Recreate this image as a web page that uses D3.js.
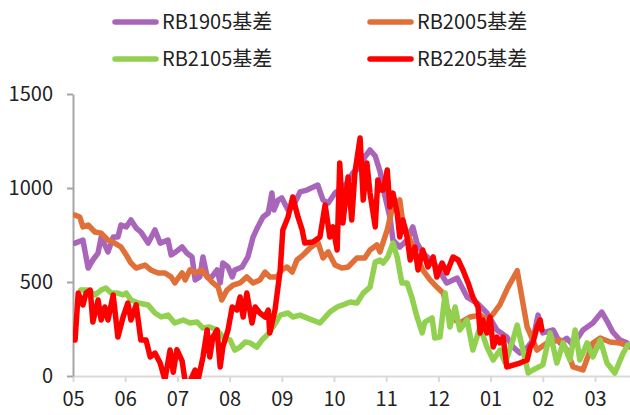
<!DOCTYPE html>
<html>
<head>
<meta charset="utf-8">
<script src="https://cdn.jsdelivr.net/npm/d3@7/dist/d3.min.js"></script>
<style>
    body { margin: 0; background: #fff; }
    text { font-family: "Noto Sans CJK SC", "Noto Sans", sans-serif; fill: #222; }
</style>
</head>
<body>
<div id="chart"></div>
<script>
// Basis chart: RB contracts, months 2018-05 .. 2019-03
// x values are months since the first tick ("05"), y values are basis

const monthLabels = ['05', '06', '07', '08', '09', '10', '11', '12', '01', '02', '03'];
const yTicks = [0, 500, 1000, 1500];

const seriesNames = ['RB1905基差', 'RB2005基差', 'RB2105基差', 'RB2205基差'];
const seriesColors = ['#A965BA', '#E07038', '#92D050', '#FF0000'];

const rb1905 = [
    [0.04, 707], [0.19, 723], [0.29, 574], [0.38, 617], [0.48, 654], [0.54, 739], [0.67, 660],
    [0.77, 739], [0.86, 739], [0.92, 803], [1.02, 793], [1.11, 830], [1.21, 787], [1.30, 766],
    [1.44, 707], [1.57, 777], [1.67, 707], [1.82, 723], [1.88, 644], [1.97, 660], [2.09, 686],
    [2.18, 654], [2.28, 633], [2.34, 511], [2.43, 527], [2.49, 633], [2.57, 527], [2.66, 527],
    [2.76, 564], [2.82, 495], [2.87, 601], [2.97, 580], [3.05, 527], [3.10, 564], [3.24, 580],
    [3.35, 633], [3.45, 739], [3.54, 793], [3.64, 846], [3.74, 867], [3.81, 973], [3.85, 883],
    [3.93, 936], [4.00, 947], [4.12, 883], [4.21, 899], [4.35, 979], [4.48, 989], [4.69, 1016],
    [4.79, 936], [4.89, 920], [5.02, 973], [5.15, 1000], [5.25, 1027], [5.36, 1080], [5.50, 1112],
    [5.59, 1165], [5.69, 1202], [5.79, 1170], [5.88, 1090], [5.94, 1000], [6.07, 846], [6.13, 723],
    [6.26, 686], [6.40, 723], [6.51, 793], [6.59, 707], [6.70, 654], [6.84, 620], [6.97, 580],
    [7.16, 495], [7.36, 521], [7.55, 420], [7.74, 388], [7.93, 335], [8.12, 245], [8.31, 207],
    [8.43, 154], [8.56, 122], [8.70, 150], [8.81, 191], [8.91, 324], [9.00, 229], [9.20, 245],
    [9.33, 176], [9.46, 200], [9.58, 165], [9.77, 245], [9.96, 282], [10.13, 340], [10.25, 282],
    [10.34, 234], [10.48, 191], [10.61, 176]
];

const rb2005 = [
    [0.04, 856], [0.13, 846], [0.19, 793], [0.29, 803], [0.42, 766], [0.54, 760], [0.67, 723],
    [0.80, 707], [0.92, 686], [1.02, 644], [1.11, 601], [1.21, 574], [1.38, 590], [1.49, 564],
    [1.63, 548], [1.76, 548], [1.88, 527], [1.95, 495], [1.99, 511], [2.09, 548], [2.15, 511],
    [2.24, 564], [2.34, 548], [2.47, 564], [2.57, 527], [2.68, 495], [2.78, 473], [2.85, 404],
    [2.95, 457], [3.07, 484], [3.20, 495], [3.33, 527], [3.45, 495], [3.58, 511], [3.68, 553],
    [3.77, 527], [3.91, 527], [4.00, 564], [4.10, 580], [4.20, 553], [4.29, 617], [4.41, 644],
    [4.54, 681], [4.69, 713], [4.79, 628], [4.89, 660], [5.02, 590], [5.15, 574], [5.27, 580],
    [5.44, 628], [5.59, 628], [5.69, 670], [5.82, 697], [5.88, 660], [6.02, 777], [6.11, 883],
    [6.26, 936], [6.32, 814], [6.46, 723], [6.59, 633], [6.70, 564], [6.84, 511], [6.97, 473],
    [7.09, 441], [7.22, 314], [7.41, 282], [7.61, 314], [7.80, 324], [7.93, 298], [8.05, 330],
    [8.18, 380], [8.33, 470], [8.51, 560], [8.70, 261], [8.89, 138], [9.08, 176], [9.33, 191],
    [9.46, 138], [9.58, 48], [9.77, 32], [9.96, 176], [10.10, 202], [10.29, 181], [10.48, 176],
    [10.67, 154]
];

const rb2105 = [
    [0.15, 457], [0.29, 457], [0.42, 431], [0.54, 457], [0.63, 468], [0.73, 441], [0.86, 441],
    [0.96, 431], [1.02, 441], [1.11, 404], [1.25, 388], [1.44, 378], [1.57, 335], [1.69, 314],
    [1.82, 324], [1.95, 282], [2.11, 298], [2.24, 282], [2.38, 287], [2.49, 255], [2.62, 261],
    [2.76, 245], [2.87, 207], [3.01, 191], [3.10, 138], [3.20, 154], [3.30, 181], [3.39, 176],
    [3.52, 154], [3.62, 191], [3.72, 218], [3.83, 261], [3.97, 324], [4.12, 335], [4.21, 314],
    [4.35, 324], [4.48, 309], [4.73, 282], [4.92, 340], [5.06, 367], [5.17, 378], [5.31, 394],
    [5.44, 388], [5.56, 441], [5.69, 473], [5.79, 606], [5.88, 617], [5.94, 601], [6.03, 633],
    [6.13, 707], [6.21, 633], [6.30, 495], [6.40, 495], [6.49, 420], [6.59, 314], [6.69, 229],
    [6.74, 287], [6.88, 309], [6.93, 202], [7.03, 207], [7.13, 441], [7.22, 261], [7.32, 367],
    [7.41, 245], [7.55, 298], [7.66, 138], [7.80, 261], [7.93, 154], [8.05, 85], [8.18, 138],
    [8.28, 69], [8.41, 176], [8.51, 271], [8.62, 138], [8.72, 16], [8.81, 32], [9.00, 59],
    [9.14, 229], [9.27, 69], [9.39, 176], [9.52, 85], [9.62, 245], [9.71, 85], [9.85, 176],
    [9.96, 101], [10.10, 191], [10.23, 69], [10.38, 16], [10.54, 122], [10.63, 165]
];

const rb2205 = [
    [0.04, 191], [0.10, 441], [0.19, 378], [0.25, 441], [0.33, 457], [0.38, 287], [0.48, 404],
    [0.54, 298], [0.61, 367], [0.67, 298], [0.77, 431], [0.86, 207], [0.96, 314], [1.05, 388],
    [1.11, 298], [1.21, 378], [1.30, 191], [1.40, 191], [1.48, 101], [1.57, 122], [1.67, 69],
    [1.76, -20], [1.86, 138], [1.92, 20], [1.99, 140], [2.09, 80], [2.15, -30], [2.24, -30],
    [2.34, 32], [2.39, -30], [2.49, 101], [2.57, 245], [2.62, 101], [2.68, 207], [2.76, 245],
    [2.82, 48], [2.87, 154], [2.97, 245], [3.05, 367], [3.14, 351], [3.20, 420], [3.26, 314],
    [3.33, 441], [3.43, 282], [3.49, 367], [3.58, 335], [3.68, 314], [3.74, 351], [3.77, 229],
    [3.87, 351], [3.97, 564], [4.02, 777], [4.12, 846], [4.21, 952], [4.31, 846], [4.39, 777],
    [4.44, 707], [4.60, 713], [4.73, 739], [4.83, 910], [4.92, 739], [4.98, 793], [5.06, 670],
    [5.11, 1133], [5.17, 814], [5.27, 1059], [5.34, 830], [5.40, 1080], [5.50, 1266], [5.56, 936],
    [5.63, 1133], [5.69, 973], [5.79, 793], [5.84, 1043], [5.88, 989], [5.94, 989], [6.02, 1096],
    [6.07, 899], [6.13, 973], [6.21, 867], [6.26, 739], [6.32, 830], [6.40, 739], [6.46, 617],
    [6.55, 686], [6.61, 564], [6.70, 670], [6.80, 580], [6.90, 633], [6.97, 527], [7.07, 601],
    [7.16, 548], [7.28, 633], [7.38, 617], [7.47, 564], [7.57, 495], [7.66, 420], [7.76, 367],
    [7.80, 229], [7.85, 298], [7.93, 229], [7.99, 314], [8.05, 154], [8.12, 207], [8.18, 176],
    [8.24, 207], [8.31, 48], [8.56, 69], [8.70, 85], [8.76, 154], [8.81, 176], [8.89, 261],
    [8.95, 298], [8.98, 245]
];

const allSeries = [rb1905, rb2005, rb2105, rb2205];

function drawChart() {
    const width = 630;
    const height = 415;
    const plot = {left: 73, top: 94, bottom: 376};
    const monthWidth = 52.2;

    const svg = d3.select('#chart')
        .append('svg')
        .attr('width', width)
        .attr('height', height);

    const x = d3.scaleLinear()
        .domain([0, 11])
        .range([plot.left, plot.left + monthWidth * 11]);

    const y = d3.scaleLinear()
        .domain([0, 1500])
        .range([plot.bottom, plot.top]);

    // x axis
    const xAxis = svg.append('g')
        .attr('transform', `translate(0,${plot.bottom})`)
        .call(d3.axisBottom(x)
            .tickValues(d3.range(monthLabels.length))
            .tickFormat(i => monthLabels[i])
            .tickSizeInner(6)
            .tickSizeOuter(0)
            .tickPadding(10));
    xAxis.selectAll('path, line').attr('stroke', '#D9D9D9').attr('stroke-width', 2);
    xAxis.selectAll('text').attr('font-size', 20).attr('fill', '#222');

    // y axis
    const yAxis = svg.append('g')
        .attr('transform', `translate(${plot.left},0)`)
        .call(d3.axisLeft(y)
            .tickValues(yTicks)
            .tickFormat(d3.format('d'))
            .tickSizeInner(6)
            .tickSizeOuter(0)
            .tickPadding(14));
    yAxis.selectAll('path, line').attr('stroke', '#A6A6A6').attr('stroke-width', 2);
    yAxis.selectAll('text').attr('font-size', 20).attr('fill', '#222');

    // clip the lines to the plot
    svg.append('clipPath')
        .attr('id', 'plot-clip')
        .append('rect')
        .attr('x', plot.left)
        .attr('y', 0)
        .attr('width', width - plot.left)
        .attr('height', plot.bottom + 3);

    const line = d3.line()
        .x(d => x(d[0]))
        .y(d => y(d[1]));

    svg.append('g')
        .attr('clip-path', 'url(#plot-clip)')
        .selectAll('path')
        .data(allSeries)
        .enter()
        .append('path')
        .attr('d', line)
        .attr('fill', 'none')
        .attr('stroke', (d, i) => seriesColors[i])
        .attr('stroke-width', 5.5)
        .attr('stroke-linejoin', 'round')
        .attr('stroke-linecap', 'round');

    // legend, 2 x 2
    const legendPos = [
        {x: 113, y: 22}, {x: 368, y: 22},
        {x: 113, y: 59}, {x: 368, y: 59}
    ];

    const legend = svg.append('g')
        .selectAll('g')
        .data(seriesNames)
        .enter()
        .append('g')
        .attr('transform', (d, i) => `translate(${legendPos[i].x},${legendPos[i].y})`);

    legend.append('line')
        .attr('x1', 2)
        .attr('x2', 43)
        .attr('stroke', (d, i) => seriesColors[i])
        .attr('stroke-width', 5.5)
        .attr('stroke-linecap', 'round');

    legend.append('text')
        .attr('x', 49)
        .attr('dy', '0.35em')
        .attr('font-size', 20)
        .text(d => d);
}

drawChart();
</script>
</body>
</html>
